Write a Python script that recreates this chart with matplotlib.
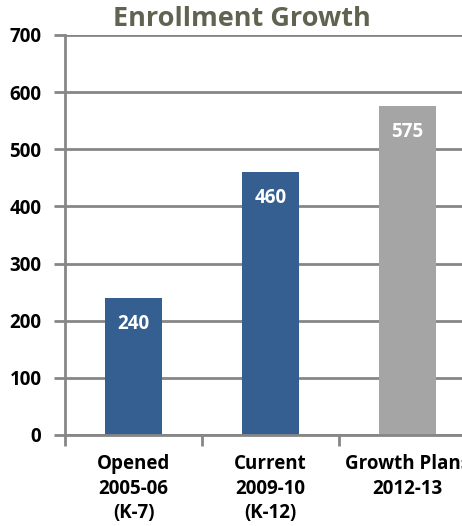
import matplotlib
matplotlib.use('Agg')
import matplotlib.pyplot as plt

categories = ['Opened\n2005-06\n(K-7)', 'Current\n2009-10\n(K-12)', 'Growth Plans\n2012-13']
enrollment = [240, 460, 575]
bar_colors = ['#365f91', '#365f91', '#a5a5a5']
yticks = [0, 100, 200, 300, 400, 500, 600, 700]

plt.rcParams['font.family'] = ['Open Sans', 'DejaVu Sans']

fig = plt.figure(figsize=(4.62, 5.26), dpi=100)
ax = fig.add_axes([65 / 462, 91 / 526, 411 / 462, 400 / 526])

x = range(len(categories))
bars = ax.bar(x, enrollment, width=0.42, color=bar_colors, zorder=2)

for b, v in zip(bars, enrollment):
  ax.text(b.get_x() + b.get_width() / 2, v - 45, str(v), ha='center', va='center',
          color='white', fontsize=13.5, fontweight='bold', zorder=3)

gray = '#868686'
ax.set_xlim(-0.5, 2.5)
ax.set_ylim(0, 700)
ax.set_yticks(yticks)
ax.set_yticklabels([str(t) for t in yticks], fontsize=13.5, fontweight='bold')
ax.grid(axis='y', color=gray, linewidth=2, zorder=1)

ax.set_xticks([-0.5, 0.5, 1.5, 2.5])
ax.set_xticklabels([])
ax.tick_params(axis='y', length=8, width=2, color=gray, pad=9)
ax.tick_params(axis='x', length=8, width=2, color=gray)
for i, c in enumerate(categories):
  ax.text(i, -34, c, ha='center', va='top', fontsize=13.5, fontweight='bold',
          linespacing=1.3, transform=ax.transData)

for s in ['top', 'right']:
  ax.spines[s].set_visible(False)
ax.spines['left'].set_color(gray)
ax.spines['left'].set_linewidth(2)
ax.spines['bottom'].set_color(gray)
ax.spines['bottom'].set_linewidth(2)

fig.text(242 / 462, 1 - 19 / 526, 'Enrollment Growth', ha='center', va='center',
         fontsize=19.5, fontweight='bold', color='#5f6350')

fig.savefig('out.png', dpi=100)
